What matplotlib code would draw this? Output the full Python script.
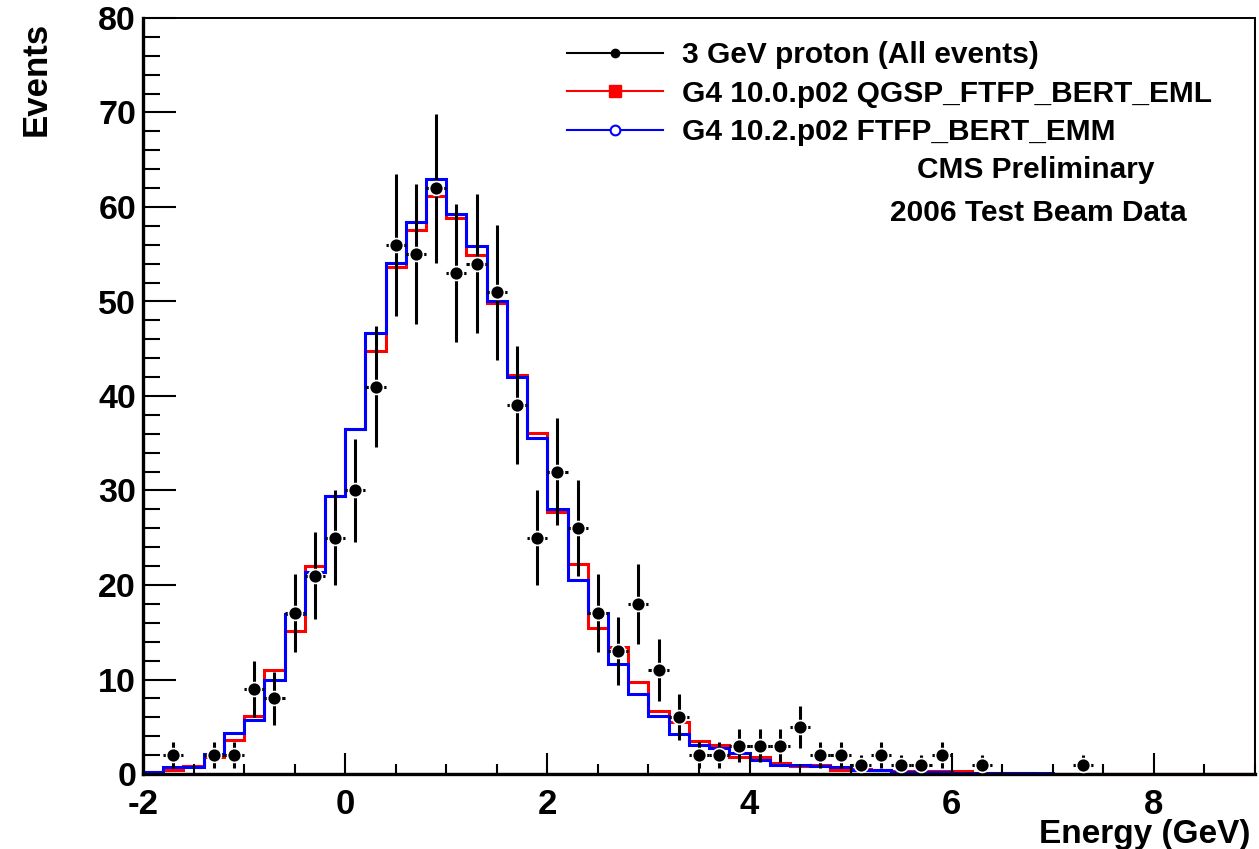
import numpy as np
import matplotlib.pyplot as plt
from matplotlib.lines import Line2D

plt.rcParams['font.family'] = ['Liberation Sans', 'DejaVu Sans']
plt.rcParams['font.weight'] = 'bold'
plt.rcParams['axes.unicode_minus'] = False

# Bin edges (GeV), 0.2 GeV bins from -2 to 9
edges = np.round(np.arange(-2.0, 9.0001, 0.2), 1)

# G4 10.0.p02 QGSP_FTFP_BERT_EML (red)
g4_100 = [
    0.2, 0.45, 0.8, 1.85, 3.65, 6.1, 11.0, 15.1, 22.0, 29.4,
    36.5, 44.8, 53.6, 57.6, 61.2, 58.8, 54.9, 49.8, 42.2, 36.1,
    27.7, 22.2, 15.5, 13.4, 9.7, 6.7, 5.5, 3.5, 3.1, 1.75,
    1.75, 1.15, 0.85, 0.95, 0.4, 0.5, 0.4, 0.3, 0.3, 0.3,
    0.3, 0.1, 0.1, 0.1, 0.05, 0.0, 0.0, 0.0, 0.0, 0.0,
    0.0, 0.0, 0.0, 0.0, 0.0]

# G4 10.2.p02 FTFP_BERT_EMM (blue)
g4_102 = [
    0.25, 0.7, 0.75, 2.15, 4.3, 5.7, 10.0, 16.9, 21.4, 29.4,
    36.5, 46.7, 54.1, 58.4, 63.0, 59.3, 55.9, 50.1, 42.0, 35.6,
    28.0, 20.5, 17.0, 11.6, 8.5, 6.1, 4.2, 3.1, 2.8, 2.25,
    1.5, 1.0, 0.9, 0.8, 0.7, 0.45, 0.4, 0.25, 0.25, 0.25,
    0.15, 0.15, 0.15, 0.1, 0.1, 0.05, 0.05, 0.0, 0.0, 0.05,
    0.05, 0.0, 0.0, 0.05, 0.05]

# 3 GeV proton test beam data (bin centres, counts)
data_x = [-1.7, -1.3, -1.1, -0.9, -0.7, -0.5, -0.3, -0.1, 0.1, 0.3,
          0.5, 0.7, 0.9, 1.1, 1.3, 1.5, 1.7, 1.9, 2.1, 2.3,
          2.5, 2.7, 2.9, 3.1, 3.3, 3.5, 3.7, 3.9, 4.1, 4.3,
          4.5, 4.7, 4.9, 5.1, 5.3, 5.5, 5.7, 5.9, 6.3, 7.3]
data_y = [2, 2, 2, 9, 8, 17, 21, 25, 30, 41,
          56, 55, 62, 53, 54, 51, 39, 25, 32, 26,
          17, 13, 18, 11, 6, 2, 2, 3, 3, 3,
          5, 2, 2, 1, 2, 1, 1, 2, 1, 1]
data_err = np.sqrt(data_y)

labels = ['3 GeV proton (All events)',
          'G4 10.0.p02 QGSP_FTFP_BERT_EML',
          'G4 10.2.p02 FTFP_BERT_EMM']

fig = plt.figure(figsize=(12.59, 8.49), dpi=100)
ax = fig.add_axes([143/1259, 1-774/849, (1255-143)/1259, (774-18)/849])

lw = 2.2
ax.stairs(g4_100, edges, color='red', lw=lw, baseline=0)
ax.stairs(g4_102, edges, color='blue', lw=lw, baseline=0)
ax.axhline(0, color='red', lw=1.5, zorder=2)
ax.axvline(9.0, color='red', lw=1.5, zorder=2)
ax.errorbar(data_x, data_y, yerr=data_err, xerr=0.1, fmt='o', color='black',
            ms=10, mec='white', mew=1.2, mfc='black', elinewidth=2.2,
            capsize=0, zorder=5)

ax.set_xlim(-2, 9)
ax.set_ylim(0, 80)
ax.set_xticks(np.arange(-2, 9, 2))
ax.set_xticks(np.arange(-2, 9.01, 0.5), minor=True)
ax.set_yticks(np.arange(0, 81, 10))
ax.set_yticks(np.arange(0, 81, 2), minor=True)
ax.tick_params(axis='both', which='both', direction='in', labelsize=25,
               width=1.5, top=False, right=False)
ax.tick_params(axis='x', which='major', length=15, pad=10)
ax.tick_params(axis='x', which='minor', length=7)
ax.tick_params(axis='y', which='major', length=24, pad=5)
ax.tick_params(axis='y', which='minor', length=12)
ax.tick_params(axis='y', labelsize=24.5)
for lab in ax.get_xticklabels() + ax.get_yticklabels():
    lab.set_fontweight('bold')
for s in ['left', 'bottom']:
    ax.spines[s].set_linewidth(2.4)
for s in ['top', 'right']:
    ax.spines[s].set_linewidth(1.4)

handles = [
    Line2D([], [], color='black', lw=1.5, marker='o', ms=6),
    Line2D([], [], color='red', lw=1.5, marker='s', ms=8),
    Line2D([], [], color='blue', lw=1.5, marker='o', ms=7, mfc='white',
           mew=1.5),
]
ax.legend(handles, labels, loc='upper left', bbox_to_anchor=(567/1259, 1-41/849),
          bbox_transform=fig.transFigure, frameon=False, fontsize=21.5,
          handlelength=3.2, handletextpad=0.65, labelspacing=0.36,
          borderpad=0, borderaxespad=0)

fig.text(1036/1259, 1-170/849, 'CMS Preliminary', fontsize=21.5,
         ha='center', va='center', fontweight='bold')
fig.text(1038/1259, 1-213/849, '2006 Test Beam Data', fontsize=21.5,
         ha='center', va='center', fontweight='bold')
fig.text(36/1259, 1-22/849, 'Events', fontsize=25, rotation=90,
         ha='center', va='top', fontweight='bold')
fig.text(1250/1259, 1-834/849, 'Energy (GeV)', fontsize=24,
         ha='right', va='center', fontweight='bold')

fig.savefig('out.png', dpi=100)
